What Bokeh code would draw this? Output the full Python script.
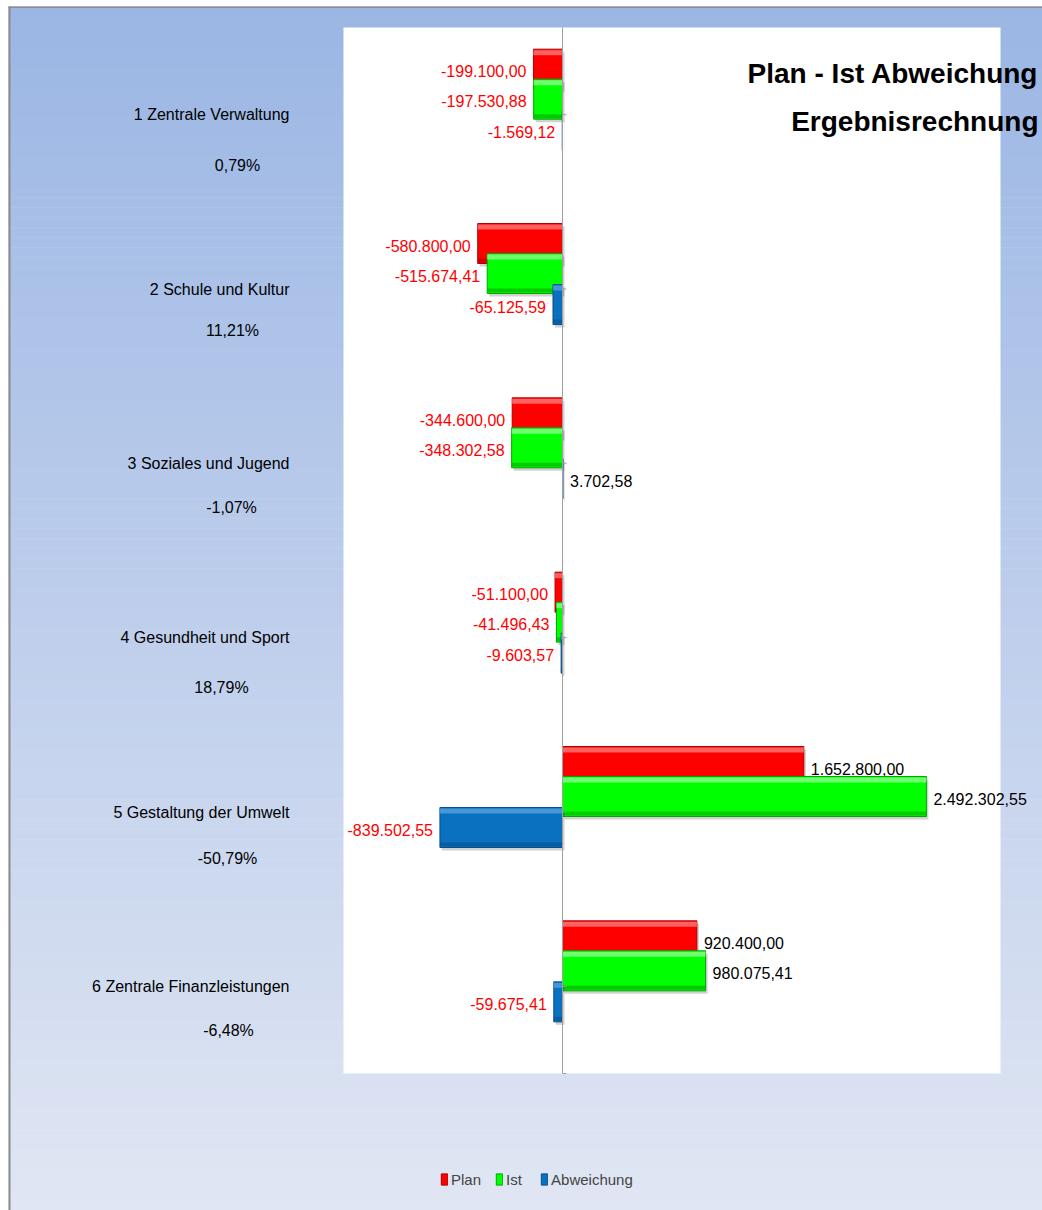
from bokeh.plotting import figure
from bokeh.models import Range1d, ColumnDataSource, Legend, LegendItem
from bokeh.core.properties import value
from bokeh.embed import file_html
from bokeh.resources import INLINE

# ---------------- data ----------------
categories = ["1 Zentrale Verwaltung", "2 Schule und Kultur", "3 Soziales und Jugend",
              "4 Gesundheit und Sport", "5 Gestaltung der Umwelt", "6 Zentrale Finanzleistungen"]
plan = [-199100.00, -580800.00, -344600.00, -51100.00, 1652800.00, 920400.00]
ist = [-197530.88, -515674.41, -348302.58, -41496.43, 2492302.55, 980075.41]
abweichung = [-1569.12, -65125.59, 3702.58, -9603.57, -839502.55, -59675.41]
percent_labels = ["0,79%", "11,21%", "-1,07%", "18,79%", "-50,79%", "-6,48%"]
series_names = ["Plan", "Ist", "Abweichung"]
title_lines = ["Plan - Ist Abweichung", "Ergebnisrechnung"]
axis_min, axis_max = -1500000, 3000000

# ---------------- layout (pixels) ----------------
W, H = 1042, 1210
FL, FR, FT, FB = 343, 1000, 27, 1073          # white plot area in canvas px
pct_dx = [237, 232, 231, 221, 227, 228]       # centre x of the percentage lines
pct_dy = [51, 41, 44, 50, 46, 44]             # offset below the category name
sx = (FR - FL) / (axis_max - axis_min)        # px per unit
x_start = axis_min - FL / sx
x_end = axis_max + (W - FR) / sx
n = len(categories)
band = (FB - FT) / n                           # px per category
y_top = -0.5 - FT / band
y_bottom = (n - 0.5) + (H - FB) / band


def px2x(cx):
    return x_start + cx / sx


def py2y(cy):
    return y_top + cy / band


FONT_NAME = "Liberation Sans, Arial, sans-serif"
FONT = value(FONT_NAME)

p = figure(width=W, height=H, x_range=Range1d(x_start, x_end), y_range=Range1d(y_bottom, y_top),
           min_border=0, toolbar_location=None, output_backend="svg",
           x_axis_location=None, y_axis_location=None, title=None)
p.grid.visible = False
p.outline_line_color = None
p.background_fill_color = "white"
p.border_fill_color = "white"

# gradient background (starts inside the grey outer border)
GX0, GY0 = 8, 6
top_rgb = (155, 182, 228)
bot_rgb = (224, 230, 243)
NS = 120
g_top, g_bot, g_col = [], [], []
for i in range(NS):
    t = (i + 0.5) / NS
    r, g, b = [int(round(a + (c - a) * t)) for a, c in zip(top_rgb, bot_rgb)]
    c0 = GY0 + i * (H - GY0) / NS
    c1 = GY0 + (i + 1) * (H - GY0) / NS + 0.5
    g_top.append(py2y(c0))
    g_bot.append(py2y(c1))
    g_col.append("#%02x%02x%02x" % (r, g, b))
p.quad(left=px2x(GX0), right=x_end, top=g_top, bottom=g_bot, fill_color=g_col, line_color=None)

# outer grey border (left and top)
p.quad(left=px2x(GX0), right=px2x(GX0 + 2), top=py2y(GY0), bottom=y_bottom,
       fill_color="#8c8c8c", line_color=None)
p.quad(left=px2x(GX0), right=x_end, top=py2y(GY0), bottom=py2y(GY0 + 1.5),
       fill_color="#8c8c8c", line_color=None)

# white plot area
p.quad(left=axis_min, right=axis_max, top=-0.5, bottom=n - 0.5, fill_color="white", line_color=None)

# bars
bar_h = 40 / band
offsets = [-45.5 / band, -15.5 / band, 15.5 / band]
main_cols = ["#ff0000", "#00ff00", "#0a70c0"]
light_cols = ["#ff7878", "#8cff8c", "#55a0e0"]
dark_cols = ["#b00000", "#00a800", "#0a4f8c"]
series_vals = [plan, ist, abweichung]


def fmt(v):
    s = f"{abs(v):,.2f}".replace(",", "X").replace(".", ",").replace("X", ".")
    return ("-" if v < 0 else "") + s


legend_items = []
for j, vals in enumerate(series_vals):
    yc = [k + offsets[j] for k in range(n)]
    left = [min(0, v) for v in vals]
    right = [max(0, v) for v in vals]
    src = ColumnDataSource(dict(
        left=left, right=right,
        top=[y - bar_h / 2 for y in yc], bottom=[y + bar_h / 2 for y in yc],
        sleft=[l + 2 / sx for l in left], sright=[r + 2 / sx for r in right],
        stop=[y - bar_h / 2 + 3 / band for y in yc], sbottom=[y + bar_h / 2 + 3 / band for y in yc],
        htop=[y - bar_h / 2 + 1 / band for y in yc], hbottom=[y - bar_h / 2 + 6 / band for y in yc],
        dtop=[y + bar_h / 2 - 5 / band for y in yc], dbottom=[y + bar_h / 2 - 1 / band for y in yc],
        y=yc, x=vals, label=[fmt(v) for v in vals],
        align=["right" if v < 0 else "left" for v in vals],
        xoff=[-7 if v < 0 else 7 for v in vals],
        tcol=["#ff0000" if v < 0 else "#000000" for v in vals],
    ))
    p.quad(left="sleft", right="sright", top="stop", bottom="sbottom", source=src,
           fill_color="black", fill_alpha=0.18, line_color=None)
    main = p.quad(left="left", right="right", top="top", bottom="bottom", source=src,
                  fill_color=main_cols[j], line_color=dark_cols[j], line_width=1)
    p.quad(left="left", right="right", top="htop", bottom="hbottom", source=src,
           fill_color=light_cols[j], fill_alpha=0.8, line_color=None)
    p.quad(left="left", right="right", top="dtop", bottom="dbottom", source=src,
           fill_color=dark_cols[j], fill_alpha=0.6, line_color=None)
    p.text(x="x", y="y", text="label", source=src, text_align="align", x_offset="xoff", y_offset=2,
           text_baseline="middle", text_color="tcol", text_font=FONT, text_font_size="16px")
    legend_items.append(LegendItem(label=series_names[j], renderers=[main]))

# zero axis line with ticks
p.segment(x0=0, y0=-0.5, x1=0, y1=n - 0.5, line_color="#a0a0a0", line_width=1)
p.segment(x0=[0] * (n + 1), y0=list(range(n)) + [n - 0.5], x1=[4 / sx] * (n + 1),
          y1=list(range(n)) + [n - 0.5], line_color="#a0a0a0", line_width=1)

# category labels
p.text(x=[px2x(289)] * n, y=list(range(n)), text=categories, text_align="right",
       text_baseline="middle", text_color="black", text_font=FONT, text_font_size="16px")
p.text(x=[px2x(cx) for cx in pct_dx], y=list(range(n)), text=percent_labels, text_align="center",
       y_offset=pct_dy, text_baseline="middle", text_color="black", text_font=FONT,
       text_font_size="16px")

# title (right-aligned at the right edge)
p.text(x=[px2x(1038)] * 2, y=[py2y(73), py2y(121)], text=title_lines, text_align="right",
       text_baseline="middle", text_color="black", text_font=FONT,
       text_font_size="28px", text_font_style="bold")

legend = Legend(items=legend_items, orientation="horizontal", location=(440, 21),
                glyph_width=8, glyph_height=14, label_standoff=3, spacing=14, padding=0, margin=0,
                border_line_color=None, background_fill_alpha=0, label_text_font=FONT_NAME,
                label_text_font_size="15px", label_height=20)
p.add_layout(legend)

open("out.html", "w").write(file_html(p, INLINE))
